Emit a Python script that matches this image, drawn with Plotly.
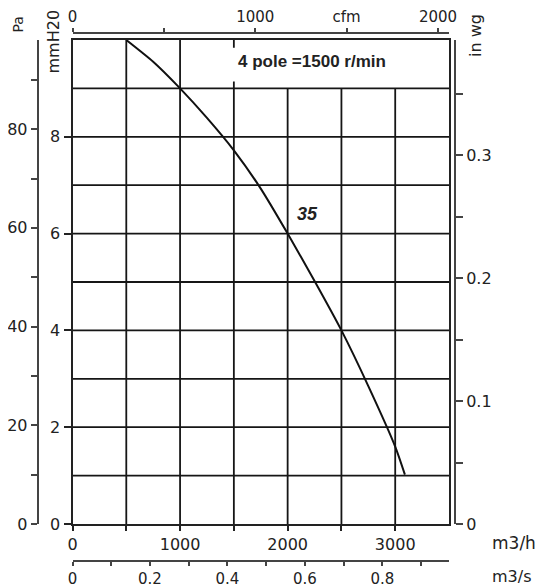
import plotly.graph_objects as go

# ---------------- data ----------------
flow_m3h = [500, 750, 1000, 1250, 1500, 1750, 2000, 2250, 2500, 2750, 3000, 3090]
press_mmh2o = [10.0, 9.55, 9.0, 8.39, 7.72, 6.93, 6.0, 5.02, 4.0, 2.85, 1.6, 1.02]

x_ticks_m3h = [0, 500, 1000, 1500, 2000, 2500, 3000]
x_ticklabels_m3h = ["0", "", "1000", "", "2000", "", "3000"]
mm_ticks = [0, 2, 4, 6, 8]
pa_ticks = [0, 10, 20, 30, 40, 50, 60, 70, 80, 90]
pa_ticklabels = ["0", "", "20", "", "40", "", "60", "", "80", ""]
inwg_ticks = [0, 0.05, 0.1, 0.15, 0.2, 0.25, 0.3, 0.35]
inwg_ticklabels = ["0", "", "0.1", "", "0.2", "", "0.3", ""]
cfm_ticks = [0, 500, 1000, 1500, 2000]
cfm_ticklabels = ["0", "", "1000", "cfm", "2000"]
m3s_ticks = [0, 0.1, 0.2, 0.3, 0.4, 0.5, 0.6, 0.7, 0.8, 0.9]
m3s_ticklabels = ["0", "", "0.2", "", "0.4", "", "0.6", "", "0.8", ""]

grid_full_x = [500, 1000]
grid_short_x = [1500, 2000, 2500, 3000]
grid_y = [1, 2, 3, 4, 5, 6, 7, 8, 9]

X_MAX = 3500
Y_MAX = 10
PA_PER_MM = 9.80665
MM_PER_INWG = 25.4
M3H_PER_CFM = 1.699

# page body has an 8px margin: figure occupies the window minus that offset
OFF = 8
W, H = 543 - OFF, 587 - OFF
FONT = "DejaVu Sans"


def fx(px):
    return (px - OFF) / W


def fy(py):
    return 1 - (py - OFF) / H


fig = go.Figure()
fig.add_trace(go.Scatter(x=flow_m3h, y=press_mmh2o, mode="lines",
                         line=dict(color="#111", width=2, shape="spline", smoothing=0.6),
                         hoverinfo="skip", showlegend=False))
# dummy traces so overlay axes exist
fig.add_trace(go.Scatter(x=[None], y=[None], yaxis="y2", showlegend=False, hoverinfo="skip"))
fig.add_trace(go.Scatter(x=[None], y=[None], yaxis="y3", showlegend=False, hoverinfo="skip"))
fig.add_trace(go.Scatter(x=[None], y=[None], xaxis="x2", showlegend=False, hoverinfo="skip"))
fig.add_trace(go.Scatter(x=[None], y=[None], xaxis="x3", showlegend=False, hoverinfo="skip"))

shapes = []
gcol = "#161616"
gw = 1.8
for gy in grid_y:
    shapes.append(dict(type="line", xref="x", yref="y", x0=0, x1=X_MAX, y0=gy, y1=gy,
                       line=dict(color=gcol, width=gw), layer="below"))
for gx in grid_full_x:
    shapes.append(dict(type="line", xref="x", yref="y", x0=gx, x1=gx, y0=0, y1=Y_MAX,
                       line=dict(color=gcol, width=gw), layer="below"))
for gx in grid_short_x:
    shapes.append(dict(type="line", xref="x", yref="y", x0=gx, x1=gx, y0=0, y1=9,
                       line=dict(color=gcol, width=gw), layer="below"))
# small stubs at 1500 inside the title box
shapes.append(dict(type="line", xref="x", yref="y", x0=1500, x1=1500, y0=Y_MAX, y1=Y_MAX - 0.16,
                   line=dict(color=gcol, width=gw), layer="below"))
shapes.append(dict(type="line", xref="x", yref="y", x0=1500, x1=1500, y0=9, y1=9.14,
                   line=dict(color=gcol, width=gw), layer="below"))

dom_x = [fx(72.5), fx(449)]
dom_y = [fy(524), fy(40)]
tickfont = dict(family=FONT, size=16, color="#222")
axcol = "#444"
common = dict(showgrid=False, zeroline=False, automargin=False,
              tickmode="array", ticks="outside", tickwidth=1.5, showline=True, linewidth=2)

fig.update_layout(
    template="none",
    width=W, height=H,
    margin=dict(l=0, r=0, t=0, b=0, pad=0),
    paper_bgcolor="white", plot_bgcolor="white",
    showlegend=False,
    shapes=shapes,
    xaxis=dict(domain=dom_x, range=[0, X_MAX], anchor="y",
               tickvals=x_ticks_m3h, ticktext=x_ticklabels_m3h, tickfont=tickfont,
               ticklen=5, tickcolor="#222", linecolor="#222", mirror=True, **common),
    yaxis=dict(domain=dom_y, range=[0, Y_MAX], anchor="x",
               tickvals=mm_ticks, ticktext=[str(v) for v in mm_ticks], tickfont=tickfont,
               ticklen=7, tickcolor="#222", linecolor="#222", mirror=True, **common),
    yaxis2=dict(overlaying="y", anchor="free", position=fx(37.7), side="left",
                range=[0, Y_MAX * PA_PER_MM],
                tickvals=pa_ticks, ticktext=pa_ticklabels, tickfont=tickfont,
                ticklen=6, tickcolor=axcol, linecolor=axcol, **common),
    yaxis3=dict(overlaying="y", anchor="free", position=fx(455), side="right",
                range=[0, Y_MAX / MM_PER_INWG],
                tickvals=inwg_ticks, ticktext=inwg_ticklabels, tickfont=tickfont,
                ticklen=7, tickcolor=axcol, linecolor=axcol, **common),
    xaxis2=dict(overlaying="x", anchor="free", position=fy(33), side="top",
                range=[0, X_MAX / M3H_PER_CFM],
                tickvals=cfm_ticks, ticktext=cfm_ticklabels,
                tickfont=dict(family=FONT, size=15, color="#222"),
                ticklen=4, tickcolor=axcol, linecolor=axcol, **common),
    xaxis3=dict(overlaying="x", anchor="free", position=fy(561), side="bottom",
                range=[0, X_MAX / 3600],
                tickvals=m3s_ticks, ticktext=m3s_ticklabels,
                tickfont=dict(family=FONT, size=15, color="#222"),
                ticklen=4, tickcolor=axcol, linecolor=axcol, **common),
)

ann = []
ann.append(dict(xref="x", yref="y", x=1520, y=9.55, xanchor="left", yanchor="middle",
                text="<b>4 pole =1500 r/min</b>", showarrow=False,
                font=dict(family="Liberation Sans", size=17, color="#222")))
ann.append(dict(xref="x", yref="y", x=2189, y=6.41, xanchor="center", yanchor="middle",
                text="<b><i>35</i></b>", showarrow=False,
                font=dict(family="Liberation Sans", size=18, color="#222")))
lbl = dict(family=FONT, size=16, color="#222")
ann.append(dict(xref="paper", yref="paper", x=fx(17.5), y=fy(25), text="Pa", textangle=-90,
                showarrow=False, xanchor="center", yanchor="middle",
                font=dict(family=FONT, size=14, color="#222")))
ann.append(dict(xref="paper", yref="paper", x=fx(53), y=fy(41.5), text="mmH20", textangle=-90,
                showarrow=False, xanchor="center", yanchor="middle",
                font=dict(family=FONT, size=16, color="#222")))
ann.append(dict(xref="paper", yref="paper", x=fx(475), y=fy(36), text="in wg", textangle=-90,
                showarrow=False, xanchor="center", yanchor="middle", font=lbl))
ann.append(dict(xref="paper", yref="paper", x=fx(490), y=fy(543), text="m3/h",
                showarrow=False, xanchor="left", yanchor="middle",
                font=dict(family=FONT, size=17, color="#222")))
ann.append(dict(xref="paper", yref="paper", x=fx(490), y=fy(576.5), text="m3/s",
                showarrow=False, xanchor="left", yanchor="middle",
                font=dict(family=FONT, size=16, color="#222")))
fig.update_layout(annotations=ann)

fig.write_html("out.html")
